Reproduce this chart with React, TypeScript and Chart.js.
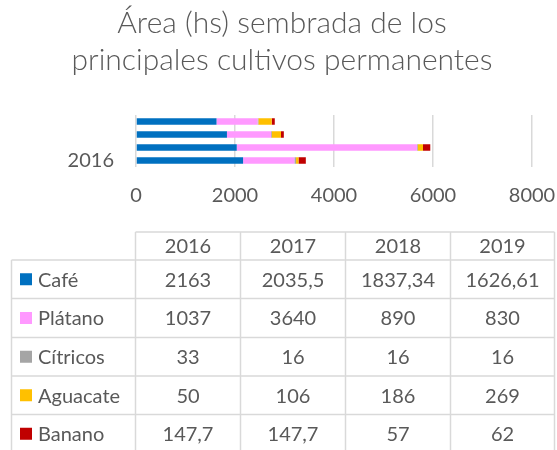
import { useEffect, useRef } from 'react';
import { Chart, registerables } from 'chart.js';

Chart.register(...registerables);

const TITLE = ['Área (hs) sembrada de los', 'principales cultivos permanentes'];
const years = ['2016', '2017', '2018', '2019'];
const crops = ['Café', 'Plátano', 'Cítricos', 'Aguacate', 'Banano'];
const cafe = [2163, 2035.5, 1837.34, 1626.61];
const platano = [1037, 3640, 890, 830];
const citricos = [33, 16, 16, 16];
const aguacate = [50, 106, 186, 269];
const banano = [147.7, 147.7, 57, 62];
const seriesValues = [cafe, platano, citricos, aguacate, banano];
const colors = ['#0070C0', '#FF99FF', '#A5A5A5', '#FFC000', '#C00000'];
const X_MIN = 0;
const X_MAX = 8000;
const X_STEP = 2000;

const FONT = 'Lato, "Open Sans", sans-serif';
const TEXT = '#595959';
const LINE = '#d9d9d9';

const fmt = (v: number) => String(v).replace('.', ',');

const tablePlugin = {
  id: 'dataTable',
  afterDraw(chart: any) {
    const ctx = chart.ctx as CanvasRenderingContext2D;
    const left = 11.5;
    const colX = [135.5, 240.5, 345.5, 450.5, 554.5];
    const rowY = [232, 260, 298.5, 337.5, 376, 414.5, 453];
    ctx.save();
    ctx.strokeStyle = LINE;
    ctx.lineWidth = 1.5;
    const line = (x1: number, y1: number, x2: number, y2: number) => {
      ctx.beginPath();
      ctx.moveTo(x1, y1);
      ctx.lineTo(x2, y2);
      ctx.stroke();
    };
    line(colX[0], rowY[0], colX[4], rowY[0]);
    for (let i = 1; i < rowY.length; i++) line(left, rowY[i], colX[4], rowY[i]);
    line(left, rowY[1], left, rowY[rowY.length - 1]);
    colX.forEach((x) => line(x, rowY[0], x, rowY[rowY.length - 1]));

    ctx.fillStyle = TEXT;
    ctx.font = `20px ${FONT}`;
    ctx.textBaseline = 'middle';
    ctx.textAlign = 'center';
    years.forEach((y, c) => {
      ctx.fillText(y, (colX[c] + colX[c + 1]) / 2, (rowY[0] + rowY[1]) / 2 + 1);
    });
    crops.forEach((name, r) => {
      const cy = (rowY[r + 1] + rowY[r + 2]) / 2 + 1;
      ctx.fillStyle = colors[r];
      ctx.fillRect(20, cy - 7, 12, 12);
      ctx.fillStyle = TEXT;
      ctx.textAlign = 'left';
      ctx.fillText(name, 38, cy);
      ctx.textAlign = 'center';
      seriesValues[r].forEach((v, c) => {
        ctx.fillText(fmt(v), (colX[c] + colX[c + 1]) / 2, cy);
      });
    });
    ctx.restore();
  },
};

export default function App() {
  const ref = useRef<HTMLCanvasElement | null>(null);
  useEffect(() => {
    if (!ref.current) return;
    const chart = new Chart(ref.current, {
      type: 'bar',
      data: {
        labels: years,
        datasets: crops.map((name, i) => ({
          label: name,
          data: seriesValues[i],
          backgroundColor: colors[i],
          borderWidth: 0,
          barPercentage: 0.5,
          categoryPercentage: 1,
        })),
      },
      options: {
        indexAxis: 'y',
        responsive: false,
        animation: false,
        devicePixelRatio: 1,
        layout: { padding: { left: 7, right: 0, top: 0, bottom: 243 } },
        plugins: {
          legend: { display: false },
          tooltip: { enabled: false },
          title: {
            display: true,
            text: TITLE,
            color: TEXT,
            font: { family: FONT, size: 30, weight: 300 as any, lineHeight: 37 / 30 },
            padding: { top: 5, bottom: 36 },
          },
        },
        scales: {
          x: {
            type: 'linear',
            stacked: true,
            min: X_MIN,
            max: X_MAX,
            ticks: {
              stepSize: X_STEP,
              color: TEXT,
              font: { family: FONT, size: 20 },
              padding: 17,
              callback: (v: any) => String(v),
            },
            grid: { color: LINE, lineWidth: 1.5, drawTicks: false },
            border: { display: false },
            afterFit: (s: any) => {
              s.height = 40;
              s.paddingLeft = 0;
              s.paddingRight = 25;
            },
          },
          y: {
            type: 'category',
            stacked: true,
            reverse: true,
            ticks: {
              autoSkip: true,
              maxTicksLimit: 1,
              color: TEXT,
              font: { family: FONT, size: 20 },
              padding: 22,
            },
            grid: { display: false, drawTicks: false },
            border: { display: false },
            afterFit: (s: any) => {
              s.width = 129;
              s.paddingTop = 0;
              s.paddingBottom = 0;
            },
          },
        },
      },
      plugins: [tablePlugin],
    });
    return () => chart.destroy();
  }, []);
  return (
    <div style={{ position: 'absolute', left: 0, top: 0, width: 557, height: 450, background: '#fff' }}>
      <canvas ref={ref} width={557} height={450} style={{ width: 557, height: 450 }} />
    </div>
  );
}
